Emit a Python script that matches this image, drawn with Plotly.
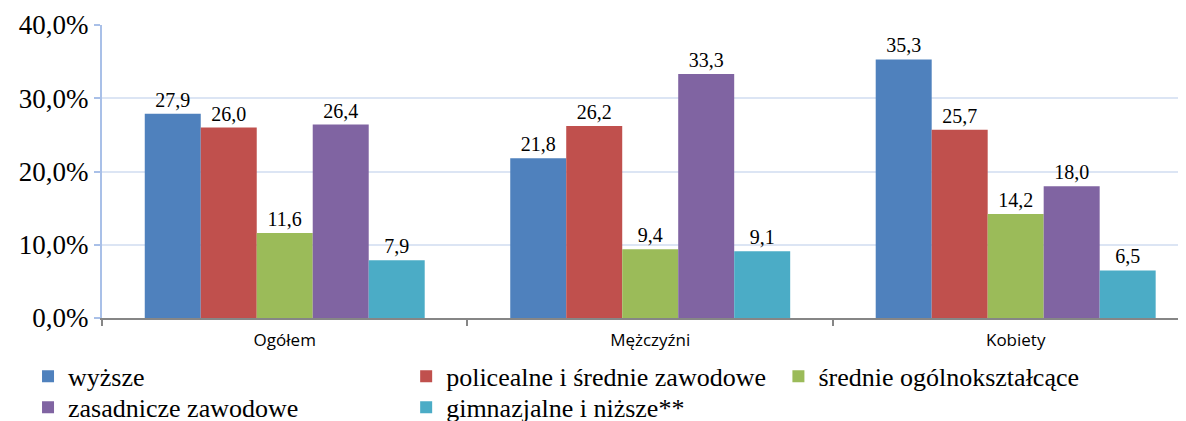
import plotly.graph_objects as go

categories = ['Ogółem', 'Mężczyźni', 'Kobiety']
series_names = [
    'wyższe',
    'policealne i średnie zawodowe',
    'średnie ogólnokształcące',
    'zasadnicze zawodowe',
    'gimnazjalne i niższe**',
]
wyzsze = [27.9, 21.8, 35.3]
policealne = [26.0, 26.2, 25.7]
srednie_ogolne = [11.6, 9.4, 14.2]
zasadnicze = [26.4, 33.3, 18.0]
gimnazjalne = [7.9, 9.1, 6.5]
y_ticks = [0, 10, 20, 30, 40]
y_tick_labels = ['0,0%', '10,0%', '20,0%', '30,0%', '40,0%']

series_values = [wyzsze, policealne, srednie_ogolne, zasadnicze, gimnazjalne]
colors = ['#4f81bd', '#c0504d', '#9bbb59', '#8064a2', '#4bacc6']

serif = 'Liberation Serif'

# one legend per entry so the 3 + 2 grid lines up like the original
legend_ids = ['legend', 'legend2', 'legend3', 'legend4', 'legend5']
legend_pos = [(0.017, 0.165), (0.338, 0.165), (0.654, 0.165),
              (0.017, 0.090), (0.338, 0.090)]

fig = go.Figure()
for name, vals, col, lg in zip(series_names, series_values, colors, legend_ids):
    fig.add_trace(go.Bar(
        x=categories,
        y=vals,
        name=name,
        legend=lg,
        showlegend=True,
        marker_color=col,
        marker_line_width=0,
        texttemplate='%{y:.1f}',
        textposition='outside',
        textfont=dict(family=serif, size=20, color='black'),
        cliponaxis=False,
    ))

legends = {}
for lg, (lx, ly) in zip(legend_ids, legend_pos):
    legends[lg] = dict(
        xref='container', yref='container',
        x=lx, y=ly,
        xanchor='left', yanchor='top',
        font=dict(family=serif, size=26, color='black'),
        bgcolor='rgba(0,0,0,0)',
    )

# page adds an 8px offset, so the figure is a bit smaller than the window
fig.update_layout(
    width=1178, height=413,
    margin=dict(l=94, r=0, t=17, b=103, autoexpand=False),
    paper_bgcolor='white',
    plot_bgcolor='white',
    separators=', ',
    barmode='group',
    bargap=0.234,
    bargroupgap=0,
    showlegend=True,
    **legends,
)

fig.update_yaxes(
    range=[0, 40],
    tickvals=y_ticks,
    ticktext=y_tick_labels,
    tickfont=dict(family=serif, size=27, color='black'),
    showgrid=True, gridcolor='#dce5f4', gridwidth=2,
    showline=True, linecolor='#a9c0e8', linewidth=2,
    ticks='outside', ticklen=6, tickcolor='#a9c0e8', tickwidth=2,
    zeroline=False,
)
fig.update_xaxes(
    range=[-0.5, 2.466],
    tickson='boundaries',
    ticks='outside', ticklen=6, tickcolor='#868686', tickwidth=2,
    showline=True, linecolor='#868686', linewidth=2,
    tickfont=dict(family='Open Sans', size=17, color='black'),
    ticklabelstandoff=6,
    showgrid=False,
)

fig.write_html('out.html')
